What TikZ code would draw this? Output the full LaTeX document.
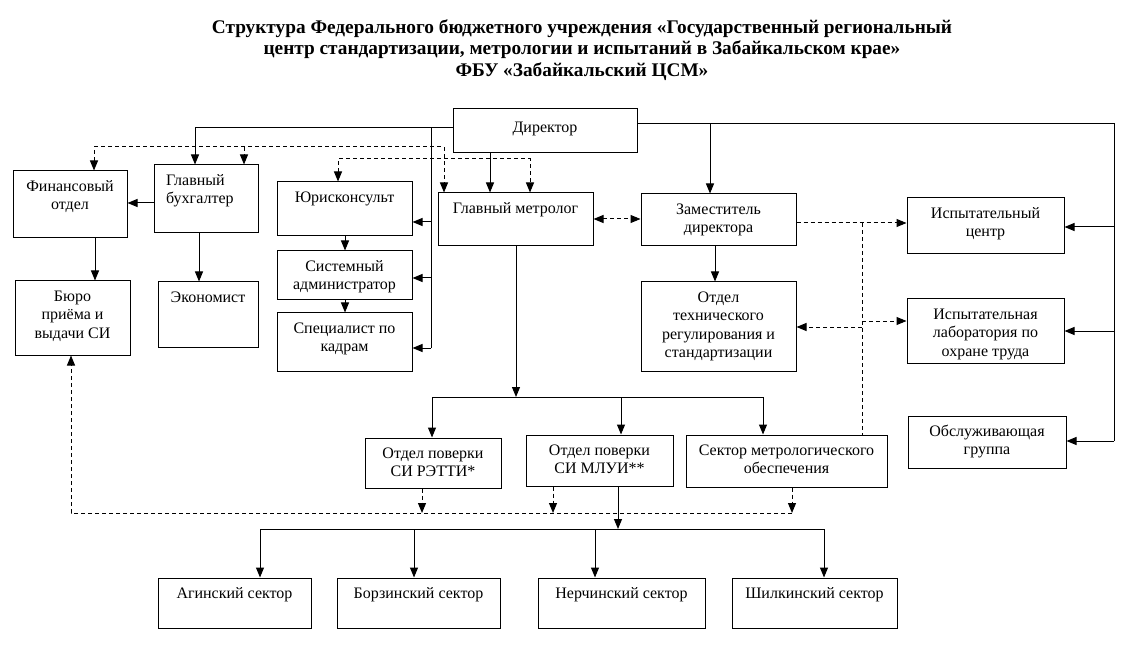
\documentclass[tikz,border=0pt]{standalone}
\usepackage{fontspec}
\setmainfont{Liberation Serif}
\usetikzlibrary{arrows.meta}
\newcommand*{\ubox}[7][7]{%
  \node[box,minimum width=#5-#3,minimum height=#6-#4] (#2) at ({(#3+#5)/2},{(#4+#6)/2}) {};
  \node[txt] (#2-t) at ({(#3+#5)/2},{#4+#1}) {\strut #7};}

\begin{document}
\begin{tikzpicture}[x=1pt,y=-1pt,>={Triangle[length=10pt,width=8pt]},
  box/.style={draw,line width=1pt,inner sep=0pt},
  txt/.style={anchor=north,align=center,inner sep=0pt,font=\fontsize{16}{18.5}\selectfont},
  link/.style={line width=1pt},
  dlink/.style={link,dash pattern=on 4pt off 3pt},
  arr/.style={link,->},
  darr/.style={dlink,->}]
\useasboundingbox (0,0) rectangle (1135,652);
% Title
\node[anchor=north,align=center,inner sep=0pt,font=\fontsize{19.3}{21.5}\selectfont\bfseries] (title) at (582,18)
  {\strut Структура Федерального бюджетного учреждения «Государственный региональный\\
   центр стандартизации, метрологии и испытаний в Забайкальском крае»\\
   ФБУ «Забайкальский ЦСМ»};
% Boxes: [text offset] name, left, top, right, bottom, text
\ubox[10]{dir}{453}{109}{637}{153}{Директор}
\ubox{fin}{13}{171}{127}{238}{Финансовый\\отдел}
\node[box,minimum width=104,minimum height=68] (buh) at (206,199) {};
\node[txt,anchor=north west,align=left] (buh-t) at (166,172) {\strut Главный\\бухгалтер};
\ubox{buro}{15}{281}{130}{355}{Бюро\\приёма и\\выдачи СИ}
\ubox{econ}{158}{282}{258}{347}{Экономист}
\ubox{jur}{277}{182}{412}{236}{Юрисконсульт}
\ubox{sys}{277}{251}{412}{300}{Системный\\администратор}
\ubox{hr}{277}{313}{412}{371}{Специалист по\\кадрам}
\ubox{metr}{438}{193}{593}{246}{Главный метролог}
\ubox{dep}{641}{194}{796}{246}{Заместитель\\директора}
\ubox{otr}{641}{282}{796}{371}{Отдел\\технического\\регулирования и\\стандартизации}
\ubox{ic}{907}{198}{1064}{254}{Испытательный\\центр}
\ubox{il}{907}{299}{1064}{363}{Испытательная\\лаборатория по\\охране труда}
\ubox{og}{908}{416}{1066}{468}{Обслуживающая\\группа}
\ubox{retti}{365}{438}{501}{488}{Отдел поверки\\СИ РЭТТИ*}
\ubox{mlui}{526}{435}{673}{486}{Отдел поверки\\СИ МЛУИ**}
\ubox{smo}{686}{435}{887}{487}{Сектор метрологического\\обеспечения}
\ubox{agin}{158}{578}{311}{628}{Агинский сектор}
\ubox{borz}{337}{578}{500}{628}{Борзинский сектор}
\ubox{nerch}{538}{578}{705}{628}{Нерчинский сектор}
\ubox{shilk}{732}{578}{897}{628}{Шилкинский сектор}
% Lines from the director
\coordinate (dl) at (195,128);
\coordinate (trunk) at (431,128);
\coordinate (dr) at (1114,124);
\draw[link] (dir.west |- dl) -- (dl);
\draw[arr] (dl) -- (buh.north -| dl);
\draw[link] (trunk) -- (431,348);
\foreach \n/\y in {jur/222,sys/278,hr/348}
  \draw[arr] (431,\y) -- (\n.east |- 0,\y);
\draw[arr] (dir.south -| 490,0) -- (metr.north -| 490,0);
\draw[link] (dir.east |- dr) -- (dr) -- (1114,441);
\draw[arr] (710,124) -- (dep.north -| 710,0);
\foreach \n/\y in {ic/227,il/331,og/441}
  \draw[arr] (1114,\y) -- (\n.east |- 0,\y);
\draw[arr] (dep.south -| 715,0) -- (otr.north -| 715,0);
% Left group
\draw[arr] (buh.west |- 0,203) -- (fin.east |- 0,203);
\draw[arr] (fin.south -| 95,0) -- (buro.north -| 95,0);
\draw[arr] (buh.south -| 199,0) -- (econ.north -| 199,0);
\draw[arr] (jur.south -| 345,0) -- (sys.north -| 345,0);
\draw[arr] (sys.south -| 345,0) -- (hr.north -| 345,0);
% Departments under the chief metrologist
\coordinate (mb) at (516,397);
\draw[arr] (metr.south -| mb) -- (mb);
\draw[link] (432,397) -- (763,397);
\foreach \n/\x in {retti/432,mlui/621,smo/763}
  \draw[arr] (\x,397) -- (\n.north -| \x,0);
% Sectors
\coordinate (sb) at (618,529);
\draw[arr] (mlui.south -| sb) -- (sb);
\draw[link] (260,529) -- (824,529);
\foreach \n/\x in {agin/260,borz/414,nerch/595,shilk/824}
  \draw[arr] (\x,529) -- (\n.north -| \x,0);
% Dashed links
\draw[darr,<->] (fin.north -| 94,0) |- (444,147) -- (metr.north -| 444,0);
\draw[darr] (244,147) -- (buh.north -| 244,0);
\draw[darr,<->] (jur.north -| 338,0) |- (530,159) -- (metr.north -| 530,0);
\draw[darr,<->] (metr.east |- 0,219) -- (dep.west |- 0,219);
\draw[darr] (dep.east |- 0,223) -- (ic.west |- 0,223);
\draw[dlink] (862,223) -- (smo.north -| 862,0);
\draw[darr] (862,321) -- (il.west |- 0,321);
\draw[darr] (862,327) -- (otr.east |- 0,327);
\draw[darr] (792,513) -| (buro.south -| 71,0);
\foreach \n/\x in {retti/422,mlui/553,smo/792}
  \draw[darr] (\n.south -| \x,0) -- (\x,513);
\end{tikzpicture}
\end{document}
